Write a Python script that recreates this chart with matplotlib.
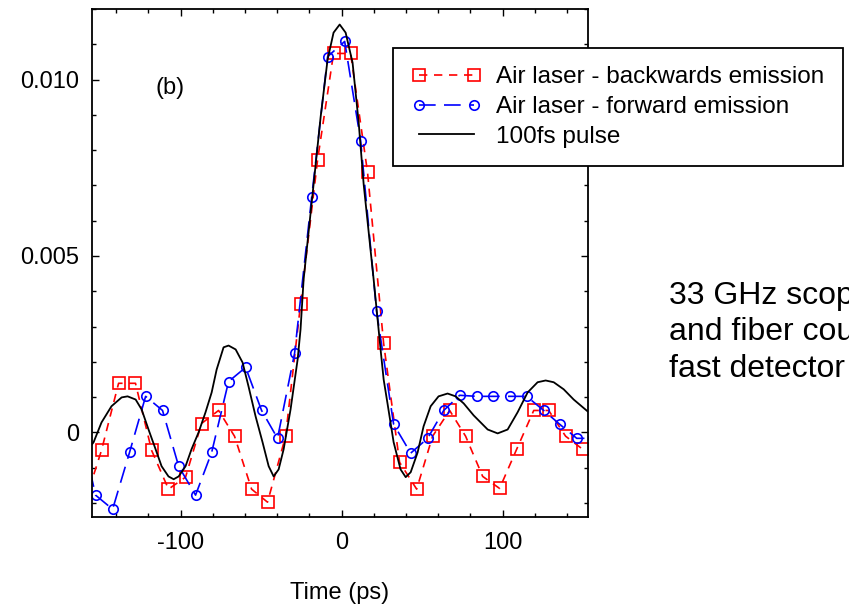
import matplotlib
matplotlib.use("Agg")
import matplotlib.pyplot as plt
from matplotlib.ticker import FixedLocator, MultipleLocator, FixedFormatter

plt.rcParams['font.family'] = ['Liberation Sans', 'DejaVu Sans']
plt.rcParams['axes.unicode_minus'] = False

# ---------------- data ----------------
back_t = [-159.5, -149.1, -138.5, -128.0, -118.0, -107.5, -96.9, -87.0, -76.4, -66.5,
          -55.9, -46.0, -34.8, -25.5, -14.9, -5.0, 5.6, 16.1, 26.1, 36.0,
          46.6, 56.5, 67.1, 77.0, 87.6, 98.1, 108.7, 119.3, 128.6, 139.1, 149.7]
back_v = [-0.0020, -0.00051, 0.00139, 0.00139, -0.00051, -0.00161, -0.00127, 0.00025, 0.00062, -0.00011,
          -0.00161, -0.00198, -0.00011, 0.00363, 0.00773, 0.01074, 0.01074, 0.00737, 0.00252, -0.00085,
          -0.00161, -0.00011, 0.00062, -0.00011, -0.00125, -0.00159, -0.00048, 0.00062, 0.00062, -0.00011, -0.00048]

fwd_t = [-163.0, -152.8, -142.2, -131.7, -121.7, -111.2, -101.2, -90.7, -80.7, -70.2, -59.6,
         -49.7, -39.8, -29.2, -18.6, -8.7, 1.9, 11.8, 21.7, 32.3, 42.9,
         53.4, 63.4, 73.3, 83.9, 93.8, 104.3, 114.9, 125.5, 135.4, 146.0, 155.9]
fwd_v = [0.0003, -0.00178, -0.00218, -0.00057, 0.00102, 0.00062, -0.00096, -0.00178, -0.00057, 0.00144, 0.00184,
         0.00062, -0.00017, 0.00224, 0.00666, 0.01065, 0.01108, 0.00827, 0.00343, 0.00023, -0.00059,
         -0.00017, 0.00062, 0.00105, 0.00102, 0.00102, 0.00102, 0.00102, 0.00062, 0.00023, -0.00017, -0.00017]

pulse_t = [-155.0, -154.0, -149.1, -142.9, -136.6, -132.9, -127.9, -124.2, -119.9, -115.5,
           -111.8, -107.5, -104.3, -101.2, -96.9, -93.2, -88.8, -84.5, -80.7, -77.6,
           -73.3, -70.2, -65.8, -61.5, -57.8, -53.4, -49.1, -45.3, -42.2, -39.1,
           -36.0, -31.7, -27.3, -25.5, -23.6, -17.4, -13.0, -8.7, -5.0, -1.2,
           2.5, 6.8, 10.6, 13.7, 19.9, 24.2, 26.1, 28.6, 32.3, 36.6,
           39.8, 42.9, 47.2, 50.9, 55.3, 60.2, 65.8, 70.8, 75.8, 82.0,
           90.7, 96.9, 103.1, 109.3, 115.5, 121.7, 126.7, 131.7, 137.9, 144.1, 153.4]
pulse_v = [-0.00034, -0.00028, 0.00028, 0.00074, 0.00099, 0.00102, 0.00093, 0.00065, 0.00008, -0.00048,
           -0.00096, -0.00125, -0.00133, -0.00125, -0.00096, -0.00048, 0.0, 0.00057, 0.00113, 0.00178,
           0.00241, 0.00246, 0.00235, 0.00198, 0.0013, 0.00045, -0.00028, -0.00096, -0.00125, -0.00105,
           -0.00048, 0.00065, 0.00207, 0.00292, 0.00433, 0.00703, 0.00895, 0.01057, 0.01133, 0.01156,
           0.01133, 0.01048, 0.00878, 0.00703, 0.00433, 0.00235, 0.0015, 0.00079, -0.00028, -0.00105,
           -0.00127, -0.00113, -0.00057, 0.00017, 0.00074, 0.00102, 0.0011, 0.00102, 0.00082, 0.00048,
           0.00008, -0.00003, 0.00008, 0.00057, 0.00113, 0.00142, 0.00147, 0.00142, 0.00122, 0.00093, 0.00057]

labels = ["Air laser - backwards emission", "Air laser - forward emission", "100fs pulse"]
xticks = [-100, 0, 100]
xticklabels = ["-100", "0", "100"]
yticks = [0, 0.005, 0.010]
yticklabels = ["0", "0.005", "0.010"]
xlabel = "Time (ps)"
panel = "(b)"
note_lines = ["33 GHz scope", "and fiber coupled", "fast detector"]

# ---------------- figure ----------------
fig = plt.figure(figsize=(8.49, 6.10), dpi=100)
ax = fig.add_axes([92/849, 1-517/610, (588-92)/849, (517-9)/610])

l1, = ax.plot(back_t, back_v, color='red', lw=1.2, dashes=(5, 4),
              marker='s', ms=8.5, mfc='none', mec='red', mew=1.2, label=labels[0])
l2, = ax.plot(fwd_t, fwd_v, color='blue', lw=1.2, dashes=(10, 5),
              marker='o', ms=6.8, mfc='none', mec='blue', mew=1.2, label=labels[1])
l3, = ax.plot(pulse_t, pulse_v, color='black', lw=1.3, label=labels[2])

ax.set_xlim(-155, 153)
ax.set_ylim(-0.0024, 0.0120)

ax.xaxis.set_major_locator(FixedLocator(xticks))
ax.xaxis.set_major_formatter(FixedFormatter(xticklabels))
ax.xaxis.set_minor_locator(MultipleLocator(20))
ax.yaxis.set_major_locator(FixedLocator(yticks))
ax.yaxis.set_major_formatter(FixedFormatter(yticklabels))
ax.yaxis.set_minor_locator(MultipleLocator(0.001))

ax.tick_params(which='both', direction='in', top=True, right=True, width=1.0, labelsize=17)
ax.tick_params(which='major', length=5)
ax.tick_params(which='minor', length=3)
ax.tick_params(axis='y', pad=9)
ax.tick_params(axis='x', pad=11)
for s in ax.spines.values():
    s.set_linewidth(1.3)

ax.set_xlabel(xlabel, fontsize=17, labelpad=20)
ax.text(0.157, 0.844, panel, transform=ax.transAxes, fontsize=17, ha='center', va='center')

leg = fig.legend(handles=[l1, l2, l3], loc='upper left', bbox_to_anchor=(393/849, 1-48/610),
                 borderaxespad=0, fontsize=17.5, numpoints=2, handlelength=2.9, handletextpad=0.6,
                 labelspacing=0.32, borderpad=0.75, fancybox=False, framealpha=1, edgecolor='black')
leg.get_frame().set_linewidth(1.3)

for line, yb in zip(note_lines, [304, 340, 377]):
    fig.text(669/849, 1-yb/610, line, fontsize=23, ha='left', va='baseline')

fig.savefig("out.png", dpi=100)
